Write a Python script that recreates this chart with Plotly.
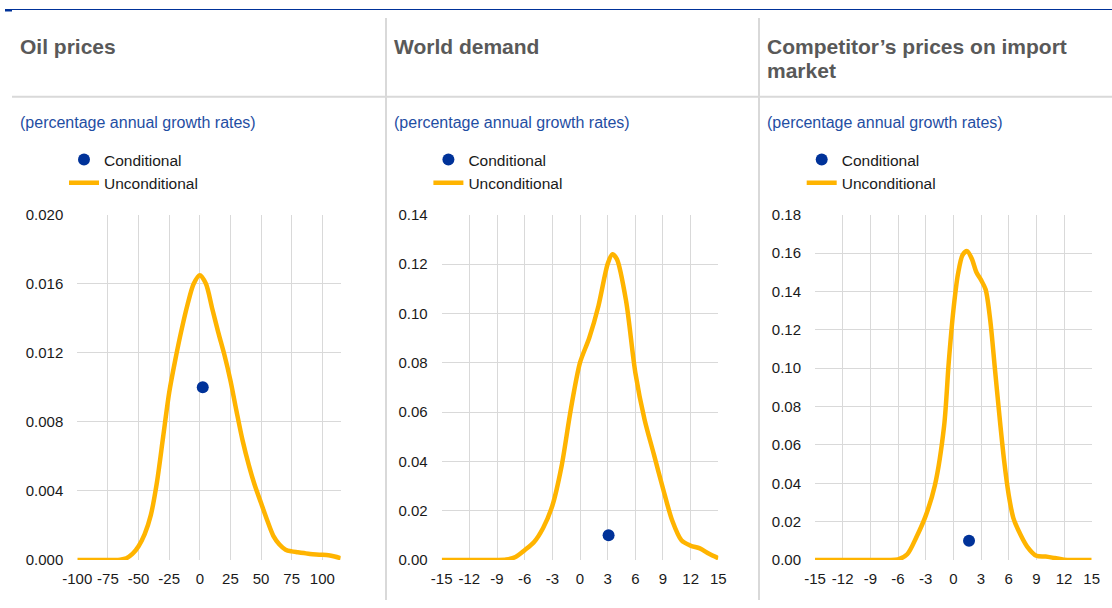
import plotly.graph_objects as go

W, H = 1112, 608

# ---------------- data ----------------
panel_titles = [["Oil prices"], ["World demand"], ["Competitor\u2019s prices on import", "market"]]
subtitle = "(percentage annual growth rates)"
series_names = ["Conditional", "Unconditional"]

oil_x = [-100, -95, -90, -85, -80, -75, -70, -65, -60, -55, -50, -45, -40, -35, -30, -25, -20,
         -15, -10, -5, 0, 5, 10, 15, 20, 25, 30, 35, 40, 45, 50, 55, 60, 65, 70, 75, 80, 85,
         90, 95, 100, 105, 110, 115]
oil_y = [0, 0, 0, 0, 0, 0, 0, 0.00002, 0.0001, 0.00035, 0.0008, 0.0015, 0.0026, 0.0045, 0.0071,
         0.0097, 0.0116, 0.0133, 0.0148, 0.0160, 0.0165, 0.0160, 0.0146, 0.0132, 0.0119, 0.0104,
         0.0086, 0.0069, 0.0055, 0.0043, 0.0033, 0.0023, 0.0014, 0.0009, 0.0006, 0.0005, 0.00045,
         0.0004, 0.00035, 0.00032, 0.0003, 0.00027, 0.0002, 0.0001]
oil_cond_x = [2.4]
oil_cond_y = [0.010]

wd_x = [-15, -14, -13, -12, -11, -10, -9, -8, -7, -6, -5, -4, -3, -2, -1, 0, 1, 2, 3, 3.5, 4, 5,
        6, 7, 8, 9, 10, 11, 12, 13, 14, 15]
wd_y = [0, 0, 0, 0, 0, 0, 0, 0.0002, 0.0012, 0.0040, 0.0072, 0.0130, 0.0220, 0.0380, 0.0610,
        0.0800, 0.0900, 0.1030, 0.1200, 0.1240, 0.1220, 0.1050, 0.0760, 0.0570, 0.0430, 0.0290,
        0.0160, 0.0080, 0.0058, 0.0047, 0.0025, 0.0007]
wd_cond_x = [3.1]
wd_cond_y = [0.010]

cp_x = [-15, -14, -13, -12, -11, -10, -9, -8, -7, -6, -5, -4, -3, -2, -1, -0.5, 0, 0.5, 1, 1.5,
        2, 2.5, 3, 3.5, 4, 4.5, 5, 5.5, 6, 6.5, 7, 8, 9, 10, 11, 12, 13, 14, 15]
cp_y = [0, 0, 0, 0, 0, 0, 0, 0, 0, 0.0003, 0.0030, 0.0120, 0.0230, 0.0390, 0.0700, 0.1030,
        0.1300, 0.1490, 0.1590, 0.1610, 0.1570, 0.1500, 0.1460, 0.1410, 0.1250, 0.1000, 0.0750,
        0.0520, 0.0340, 0.0220, 0.0160, 0.0070, 0.0022, 0.0018, 0.0010, 0.0002, 0, 0, 0]
cp_cond_x = [1.7]
cp_cond_y = [0.010]

oil_xticks = [-100, -75, -50, -25, 0, 25, 50, 75, 100]
oil_yticks = [0.000, 0.004, 0.008, 0.012, 0.016, 0.020]
wd_xticks = [-15, -12, -9, -6, -3, 0, 3, 6, 9, 12, 15]
wd_yticks = [0.00, 0.02, 0.04, 0.06, 0.08, 0.10, 0.12, 0.14]
cp_xticks = [-15, -12, -9, -6, -3, 0, 3, 6, 9, 12, 15]
cp_yticks = [0.00, 0.02, 0.04, 0.06, 0.08, 0.10, 0.12, 0.14, 0.16, 0.18]

# ---------------- style ----------------
YELLOW = "#ffb400"
BLUE = "#003299"
GRID = "#d9d9d9"
FONT = "Arial, Liberation Sans, sans-serif"

panels = [
    dict(x=oil_x, y=oil_y, cx=oil_cond_x, cy=oil_cond_y, xt=oil_xticks, yt=oil_yticks,
         xr=[-100, 115], yr=[0, 0.020], yf=".3f", left=77.3, right=340.7, sep=12),
    dict(x=wd_x, y=wd_y, cx=wd_cond_x, cy=wd_cond_y, xt=wd_xticks, yt=wd_yticks,
         xr=[-15, 15], yr=[0, 0.14], yf=".2f", left=441.7, right=718.3, sep=386),
    dict(x=cp_x, y=cp_y, cx=cp_cond_x, cy=cp_cond_y, xt=cp_xticks, yt=cp_yticks,
         xr=[-15, 15], yr=[0, 0.18], yf=".2f", left=815.0, right=1091.7, sep=759),
]

plot_top, plot_bottom = 214.7, 560.0

fig = go.Figure()
layout = dict(
    template="none",
    width=W, height=H,
    autosize=False,
    margin=dict(l=0, r=0, t=0, b=0, pad=0, autoexpand=False),
    paper_bgcolor="white", plot_bgcolor="white",
    font=dict(family=FONT, color="#1a1a1a", size=15),
    showlegend=True,
    annotations=[], shapes=[],
)

title_line_y = [46.5, 70.5]

for i, p in enumerate(panels):
    n = "" if i == 0 else str(i + 1)
    xa, ya = "x" + n, "y" + n
    leg = "legend" + n
    fig.add_trace(go.Scatter(
        x=p["x"], y=p["y"], mode="lines", name=series_names[1],
        line=dict(color=YELLOW, width=4.5, shape="spline", smoothing=0.8),
        xaxis=xa, yaxis=ya, legend=leg, legendgroup="u" + n, legendrank=2,
        hoverinfo="skip"))
    fig.add_trace(go.Scatter(
        x=p["cx"], y=p["cy"], mode="markers", name=series_names[0],
        marker=dict(color=BLUE, size=12, line=dict(width=0)),
        xaxis=xa, yaxis=ya, legend=leg, legendgroup="c" + n, legendrank=1,
        hoverinfo="skip"))

    dom_x = [p["left"] / W, p["right"] / W]
    dom_y = [1 - plot_bottom / H, 1 - plot_top / H]
    layout["xaxis" + n] = dict(
        domain=dom_x, range=p["xr"], tickvals=p["xt"], ticktext=[str(v) for v in p["xt"]],
        showgrid=True, gridcolor=GRID, gridwidth=1, zeroline=False, showline=False,
        automargin=False,
        ticks="", ticklabelstandoff=8, tickfont=dict(size=15, color="#1a1a1a"),
        anchor=ya, fixedrange=True)
    layout["yaxis" + n] = dict(
        domain=dom_y, range=p["yr"], tickvals=p["yt"], tickformat=p["yf"],
        showgrid=True, gridcolor=GRID, gridwidth=1, zeroline=False, showline=False,
        automargin=False,
        ticks="", ticklabelstandoff=13, tickfont=dict(size=15, color="#1a1a1a"),
        anchor=xa, fixedrange=True)
    layout[leg] = dict(
        x=(p["left"] + 6.7 - 20) / W, xanchor="left",
        y=1 - 143 / H, yanchor="top",
        bgcolor="rgba(0,0,0,0)", borderwidth=0,
        font=dict(size=15.5, color="#1a1a1a", family=FONT),
        tracegroupgap=1, traceorder="normal", itemclick=False, itemdoubleclick=False)

    tx = p["sep"] + 6.3
    for k, line in enumerate(panel_titles[i]):
        layout["annotations"].append(dict(
            text="<b>" + line + "</b>", xref="paper", yref="paper",
            x=tx / W, y=1 - title_line_y[k] / H, xanchor="left", yanchor="middle",
            align="left", showarrow=False,
            font=dict(size=21, color="#595959", family=FONT)))
    layout["annotations"].append(dict(
        text=subtitle, xref="paper", yref="paper",
        x=tx / W, y=1 - 122 / H, xanchor="left", yanchor="middle", align="left",
        showarrow=False, font=dict(size=16, color="#1f4ea3", family=FONT)))

# separators and header rule
layout["shapes"].append(dict(type="line", xref="paper", yref="paper",
                             x0=12 / W, x1=1, y0=1 - 96.7 / H, y1=1 - 96.7 / H,
                             line=dict(color=GRID, width=2)))
for sx in [386, 759]:
    layout["shapes"].append(dict(type="line", xref="paper", yref="paper",
                                 x0=sx / W, x1=sx / W, y0=1 - 18 / H, y1=1 - 600 / H,
                                 line=dict(color=GRID, width=2)))
layout["shapes"].append(dict(type="line", xref="paper", yref="paper",
                             x0=5 / W, x1=1, y0=1 - 9.5 / H, y1=1 - 9.5 / H,
                             line=dict(color=BLUE, width=1.2)))
layout["shapes"].append(dict(type="line", xref="paper", yref="paper",
                             x0=5 / W, x1=12 / W, y0=1 - 10.5 / H, y1=1 - 10.5 / H,
                             line=dict(color=BLUE, width=2)))

fig.update_layout(**layout)
fig.write_html("out.html", config={"displayModeBar": False, "staticPlot": False},
               post_script="document.body.style.margin='0';")
